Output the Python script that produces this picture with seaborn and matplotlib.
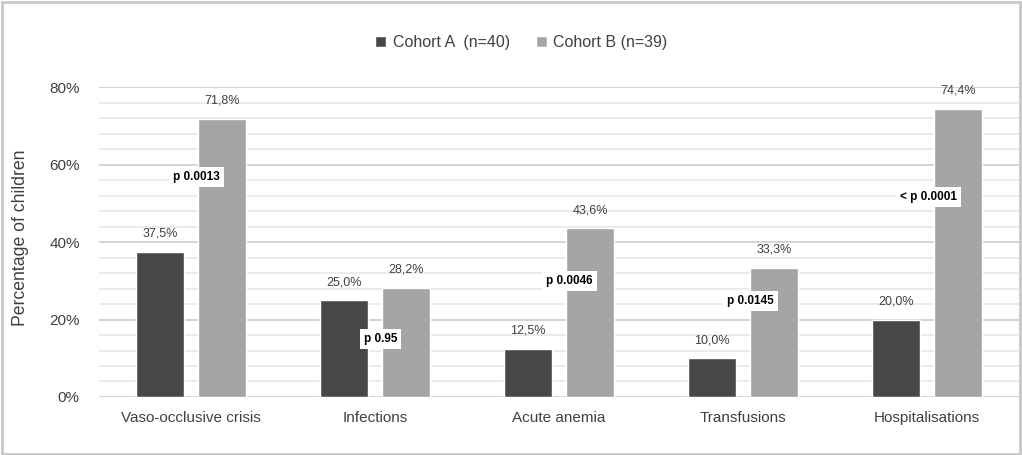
import pandas as pd
import matplotlib.pyplot as plt
import seaborn as sns
from matplotlib.patches import Rectangle
from matplotlib.ticker import MultipleLocator, PercentFormatter

# data
categories = ["Vaso-occlusive crisis", "Infections", "Acute anemia", "Transfusions", "Hospitalisations"]
cohorts = ["Cohort A  (n=40)", "Cohort B (n=39)"]
cohort_a = [37.5, 25.0, 12.5, 10.0, 20.0]
cohort_b = [71.8, 28.2, 43.6, 33.3, 74.4]
p_labels = ["p 0.0013", "p 0.95", "p 0.0046", "p 0.0145", "< p 0.0001"]
p_heights = [56.8, 15.0, 30.0, 24.8, 51.6]
p_shift = [0.03, 0.03, 0.055, 0.04, 0.01]

df = pd.DataFrame({
    "category": categories * 2,
    "cohort": [cohorts[0]] * 5 + [cohorts[1]] * 5,
    "value": cohort_a + cohort_b,
})

sns.set_theme(style="white")
plt.rcParams["font.family"] = ["Liberation Sans", "DejaVu Sans"]

fig = plt.figure(figsize=(10.22, 4.55), dpi=100)
ax = fig.add_axes([0.097, 0.1275, 0.9, 0.681])

sns.barplot(
    data=df, x="category", y="value", hue="cohort",
    palette=["#474747", "#a5a5a5"], width=0.672, gap=0.22,
    saturation=1, ax=ax, zorder=3,
)

ax.set_ylim(0, 80)
ax.set_xlim(-0.5, 4.5)
ax.yaxis.set_major_locator(MultipleLocator(20))
ax.yaxis.set_minor_locator(MultipleLocator(4))
ax.yaxis.set_major_formatter(PercentFormatter(decimals=0))
ax.grid(axis="y", which="major", color="#d0d0d0", lw=1.3, zorder=0)
ax.grid(axis="y", which="minor", color="#e6e6e6", lw=1.1, zorder=0)
ax.set_axisbelow(True)
for s in ax.spines.values():
    s.set_visible(False)
ax.tick_params(axis="both", which="both", length=0, colors="#404040", labelsize=11)
ax.tick_params(axis="x", pad=10)
ax.tick_params(axis="y", pad=14)
ax.set_xlabel("")
ax.set_ylabel("Percentage of children", fontsize=12.7, color="#404040")
ax.yaxis.set_label_coords(-0.076, 0.515)

# value labels above bars
for cont in ax.containers:
    labels = [f"{b.get_height():.1f}%".replace(".", ",") for b in cont]
    for b, lab in zip(cont, labels):
        ax.annotate(lab, (b.get_x() + b.get_width() / 2, b.get_height()),
                    xytext=(0, 13), textcoords="offset points",
                    ha="center", va="center", fontsize=9, color="#404040")

# p-value boxes
for i, (lab, h, dx) in enumerate(zip(p_labels, p_heights, p_shift)):
    ax.text(i + dx, h, lab, ha="center", va="center", fontsize=8.5,
            fontweight="bold", color="black", zorder=5,
            bbox=dict(boxstyle="square,pad=0.35", fc="white", ec="none"))

sns.move_legend(
    ax, "center", bbox_to_anchor=(0.459, 1.145), ncol=2, frameon=False,
    title=None, fontsize=11.5, handlelength=0.7, handleheight=0.7,
    handletextpad=0.4, columnspacing=1.6,
)
for t in ax.get_legend().get_texts():
    t.set_color("#404040")

fig.patches.append(Rectangle((0.002, 0.003), 0.996, 0.993, transform=fig.transFigure,
                             fill=False, ec="#c8c8c8", lw=2))

fig.savefig("out.png", dpi=100)
